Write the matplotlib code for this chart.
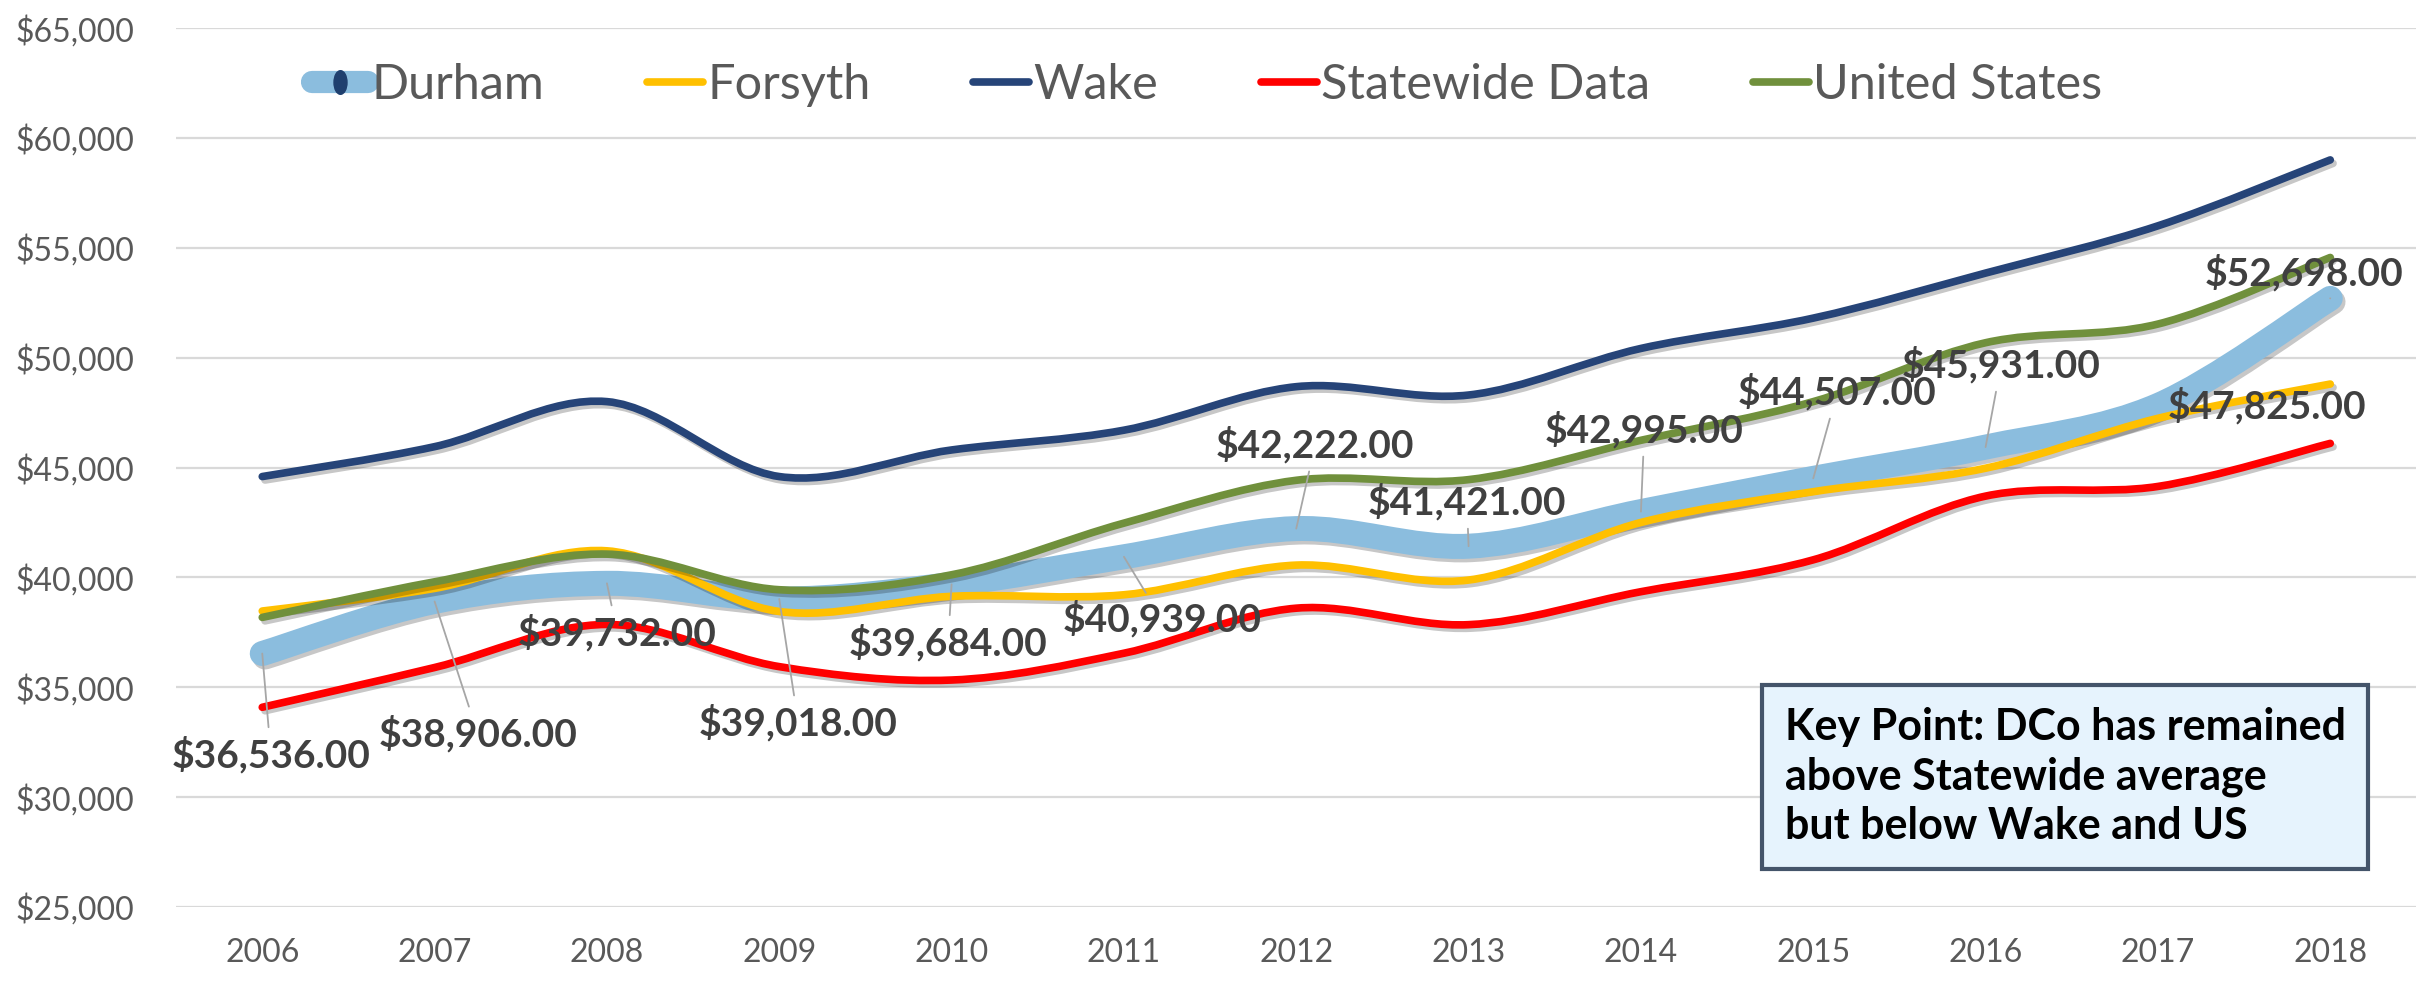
import numpy as np
import matplotlib
matplotlib.use("Agg")
import matplotlib.pyplot as plt
import matplotlib.patheffects as pe
from matplotlib.path import Path
from matplotlib.patches import PathPatch
from matplotlib.lines import Line2D
from matplotlib.transforms import Affine2D
from matplotlib.ticker import FuncFormatter

plt.rcParams['font.family'] = ['Lato', 'DejaVu Sans']

# Data
years = ["2006", "2007", "2008", "2009", "2010", "2011", "2012",
         "2013", "2014", "2015", "2016", "2017", "2018"]
durham = [36536, 38906, 39732, 39018, 39684, 40939, 42222,
          41421, 42995, 44507, 45931, 47825, 52698]
forsyth = [38470, 39500, 41210, 38450, 39140, 39210, 40560,
           39880, 42500, 43900, 44970, 47240, 48800]
wake = [44590, 45950, 48000, 44590, 45800, 46700, 48680,
        48300, 50420, 51800, 53850, 56000, 59000]
statewide = [34090, 35900, 37860, 35940, 35330, 36550, 38600,
             37850, 39350, 40800, 43700, 44140, 46100]
united_states = [38180, 39800, 41060, 39440, 40120, 42470, 44420,
                 44450, 46240, 48000, 50680, 51530, 54560]

# where each Durham data label sits (x in category units, y in dollars)
label_pos = [(0.05, 31950), (1.25, 32900), (2.06, 37500), (3.11, 33400),
             (3.98, 37050), (5.22, 38100), (6.11, 46050), (6.99, 43450),
             (8.02, 46730), (9.14, 48450), (10.09, 49680), (11.63, 47820),
             (11.85, 53860)]
show_leader = [True] * 11 + [False, True]


# Excel style smoothed line: cubic bezier segments through every point
def smooth_path(xs, ys):
    pts = np.column_stack([xs, ys]).astype(float)
    n = len(pts)
    tang = np.zeros_like(pts)
    for i in range(n):
        a = pts[max(i - 1, 0)]
        b = pts[min(i + 1, n - 1)]
        tang[i] = (b - a) / 2
    verts = [pts[0]]
    codes = [Path.MOVETO]
    for i in range(n - 1):
        verts += [pts[i] + tang[i] / 3, pts[i + 1] - tang[i + 1] / 3, pts[i + 1]]
        codes += [Path.CURVE4] * 3
    return Path(verts, codes)


fig = plt.figure(figsize=(24.22, 9.81), dpi=100)
ax = fig.add_axes([0.0727, 0.0754, 0.925, 0.896])

x = np.arange(len(years))
series = [
    ("Durham", durham, "#8BBDDE", 18),
    ("Forsyth", forsyth, "#FFC000", 5.5),
    ("Wake", wake, "#264478", 5.5),
    ("Statewide Data", statewide, "#FF0000", 5.5),
    ("United States", united_states, "#70903C", 5.5),
]

shadow = [pe.SimpleLineShadow(offset=(2, -2.5), shadow_color="black", alpha=0.22),
          pe.Normal()]
handles = []
for name, vals, color, lw in series:
    patch = PathPatch(smooth_path(x, vals), fill=False, edgecolor=color,
                      linewidth=lw, capstyle="round", joinstyle="round", zorder=3)
    patch.set_path_effects(shadow)
    ax.add_patch(patch)
    if name == "Durham":
        ell = Path.unit_circle().transformed(Affine2D().scale(0.55, 1.0))
        h = Line2D([], [], color=color, lw=16, solid_capstyle="round",
                   marker=ell, markersize=17, markerfacecolor="#1F3F6E",
                   markeredgecolor="#1F3F6E")
    else:
        h = Line2D([], [], color=color, lw=lw, solid_capstyle="round")
    handles.append(h)

# data labels for Durham
for i, v in enumerate(durham):
    arrow = dict(arrowstyle="-", color="#A6A6A6", lw=1.3, shrinkA=4, shrinkB=0) if show_leader[i] else None
    ax.annotate(f"${v:,.2f}", xy=(x[i], v), xytext=label_pos[i],
                ha="center", va="center", fontsize=28, fontweight="bold",
                color="#404040", arrowprops=arrow, zorder=5)

ax.set_xlim(-0.5, len(years) - 0.5)
ax.set_ylim(25000, 65000)
ax.set_xticks(x)
ax.set_xticklabels(years)
ax.set_yticks(np.arange(25000, 65001, 5000))
ax.yaxis.set_major_formatter(FuncFormatter(lambda v, p: f"${v:,.0f}"))
ax.tick_params(axis="both", length=0, labelsize=23, labelcolor="#595959")
ax.tick_params(axis="y", pad=30)
ax.tick_params(axis="x", pad=22)
ax.grid(axis="y", color="#D9D9D9", lw=1.6)
ax.set_axisbelow(True)
for s in ax.spines.values():
    s.set_visible(False)

leg = ax.legend(handles, [s[0] for s in series], loc="center", ncol=5,
                bbox_to_anchor=(0.46, 0.935), frameon=False, fontsize=35,
                handlelength=1.15, handletextpad=0.08, columnspacing=2.12)
for t in leg.get_texts():
    t.set_color("#595959")

ax.text(0.718, 0.148, "Key Point: DCo has remained\nabove Statewide average\nbut below Wake and US",
        transform=ax.transAxes, ha="left", va="center", fontsize=31,
        fontweight="bold", color="black", linespacing=1.28, zorder=6,
        bbox=dict(boxstyle="square,pad=0.52", facecolor="#E6F3FD",
                  edgecolor="#44546A", lw=3))

fig.savefig("out.png", dpi=100)
